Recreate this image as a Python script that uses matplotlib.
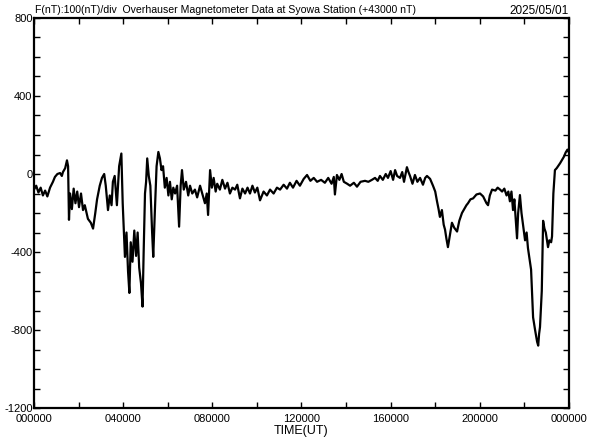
import matplotlib.pyplot as plt
import numpy as np

plt.rcParams['font.family'] = ['Liberation Sans Narrow', 'Liberation Sans', 'DejaVu Sans']

# time in hours (UT), F deviation in nT (offset +43000 nT)
hours = [0.00, 0.10, 0.20, 0.30, 0.40, 0.50, 0.60, 0.72, 0.85, 0.94, 1.05, 1.17, 1.25, 1.30, 1.40, 1.48,
         1.53, 1.57, 1.62, 1.70, 1.78, 1.86, 1.94, 2.02, 2.11, 2.20, 2.28, 2.42, 2.55, 2.65, 2.75, 2.83,
         2.95, 3.05, 3.15, 3.22, 3.32, 3.40, 3.48, 3.54, 3.62, 3.72, 3.82, 3.92, 3.98, 4.08, 4.15, 4.22,
         4.28, 4.34, 4.42, 4.50, 4.58, 4.65, 4.72, 4.80, 4.87, 4.92, 4.98, 5.03, 5.08, 5.15, 5.22, 5.30,
         5.35, 5.42, 5.50, 5.58, 5.65, 5.72, 5.79, 5.87, 5.95, 6.03, 6.10, 6.18, 6.25, 6.33, 6.42, 6.51,
         6.58, 6.64, 6.72, 6.82, 6.92, 7.00, 7.10, 7.22, 7.32, 7.45, 7.55, 7.67, 7.75, 7.81, 7.90, 7.98,
         8.06, 8.15, 8.22, 8.34, 8.45, 8.57, 8.68, 8.79, 8.90, 9.02, 9.12, 9.24, 9.35, 9.47, 9.58, 9.69,
         9.80, 9.91, 10.02, 10.14, 10.30, 10.45, 10.59, 10.75, 10.90, 11.04, 11.20, 11.35, 11.48, 11.62,
         11.78, 11.93, 12.10, 12.25, 12.40, 12.55, 12.70, 12.88, 13.05, 13.20, 13.35, 13.45, 13.50, 13.59,
         13.70, 13.80, 13.90, 14.05, 14.18, 14.35, 14.49, 14.65, 14.85, 15.00, 15.16, 15.30, 15.42, 15.52,
         15.65, 15.78, 15.88, 16.00, 16.11, 16.20, 16.29, 16.42, 16.52, 16.60, 16.73, 16.80, 16.87, 16.98,
         17.09, 17.20, 17.32, 17.45, 17.55, 17.63, 17.77, 17.90, 18.00, 18.08, 18.15, 18.21, 18.30, 18.38,
         18.44, 18.50, 18.57, 18.65, 18.75, 18.85, 18.98, 19.08, 19.20, 19.30, 19.40, 19.47, 19.58, 19.70,
         19.85, 20.01, 20.15, 20.30, 20.37, 20.45, 20.55, 20.70, 20.80, 20.91, 21.00, 21.10, 21.20, 21.28,
         21.35, 21.42, 21.49, 21.55, 21.62, 21.67, 21.72, 21.80, 21.87, 21.94, 22.03, 22.10, 22.16, 22.25,
         22.30, 22.39, 22.48, 22.57, 22.62, 22.66, 22.70, 22.78, 22.84, 22.90, 22.96, 23.06, 23.12, 23.20,
         23.24, 23.30, 23.37, 23.45, 23.60, 23.70, 23.78, 23.85, 23.93, 24.00]
f_nt = [-80, -60, -95, -70, -110, -85, -115, -70, -40, -15, 0, 5, -10, 10, 30, 70,
        40, -235, -100, -180, -75, -150, -90, -170, -100, -185, -160, -230, -250, -280, -200, -130,
        -60, -20, 0, -60, -185, -110, -160, -40, -10, -160, 40, 105, -150, -425, -300, -500,
        -610, -350, -450, -290, -420, -300, -480, -560, -680, -400, -100, -40, 80, -10, -60, -300,
        -425, -200, 40, 113, 80, 20, 40, -70, -20, -110, -40, -130, -70, -100, -60, -270,
        -60, 20, -80, -40, -110, -60, -100, -80, -120, -60, -100, -150, -100, -210, 20, -70,
        -20, -90, -50, -80, -30, -75, -45, -100, -70, -80, -55, -125, -75, -100, -70, -100,
        -60, -95, -70, -135, -90, -110, -80, -100, -70, -80, -55, -75, -45, -70,
        -35, -60, -25, -5, -35, -20, -40, -30, -45, -20, -50, -15, -105, -5,
        -30, 0, -40, -50, -60, -45, -65, -40, -35, -40, -30, -20, -35, -10,
        -30, 0, -20, 15, -30, 20, -10, -20, 10, -40, 35, 10, -10, -50,
        -5, -40, -20, -55, -20, -10, -25, -60, -90, -140, -180, -220, -185, -260,
        -285, -330, -375, -320, -250, -275, -295, -240, -200, -180, -160, -150, -130, -125,
        -105, -100, -115, -150, -160, -110, -80, -85, -70, -80, -90, -75, -110, -90,
        -140, -90, -185, -130, -250, -330, -200, -108, -200, -260, -340, -300, -380, -450,
        -490, -735, -800, -860, -880, -820, -785, -600, -240, -280, -300, -375, -340, -350,
        -320, -100, 20, 30, 55, 75, 90, 110, 125, 110]

xtick_labels = ['000000', '040000', '080000', '120000', '160000', '200000', '000000']

fig = plt.figure(figsize=(5.92, 4.40), dpi=100)
ax = fig.add_axes([0.0574, 0.0727, 0.9037, 0.8864])
ax.plot(hours, f_nt, color='black', lw=1.6)

ax.set_xlim(0, 24)
ax.set_ylim(-1200, 800)

ax.set_xticks(np.arange(0, 25, 2))
ax.set_xticklabels([xtick_labels[i // 4] if i % 4 == 0 else '' for i in range(0, 25, 2)])
ax.set_yticks(np.arange(-1200, 801, 100))
ax.set_yticklabels([str(v) if v % 400 == 0 else '' for v in range(-1200, 801, 100)])

ax.tick_params(direction='in', length=4, width=1.0, top=True, right=True,
               labelsize=8, pad=1)
ax.tick_params(axis='x', pad=4)
for s in ax.spines.values():
    s.set_linewidth(1.6)

ax.set_xlabel('TIME(UT)', fontsize=9, labelpad=1)
fig.text(0.059, 0.988, 'F(nT):100(nT)/div  Overhauser Magnetometer Data at Syowa Station (+43000 nT)',
         fontsize=7.6, va='top', ha='left')
fig.text(0.961, 0.988, '2025/05/01', fontsize=8.5, va='top', ha='right')

plt.savefig('out.png', dpi=100)
